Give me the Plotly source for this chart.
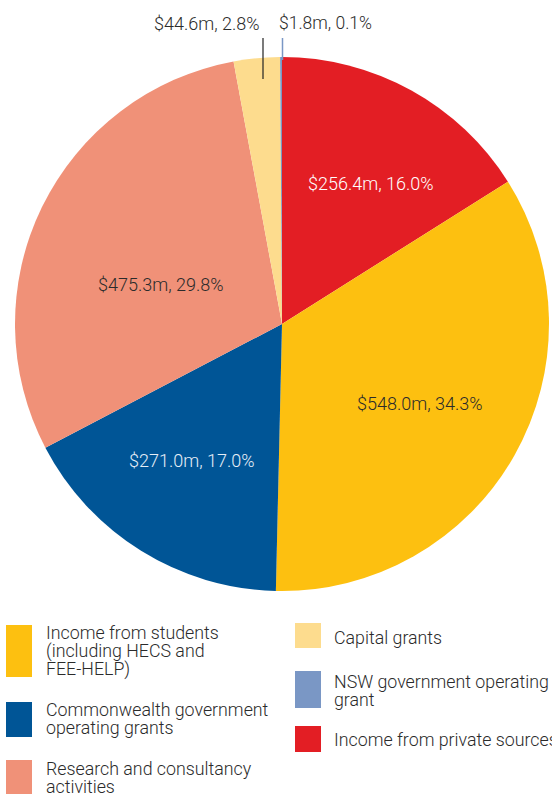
import plotly.graph_objects as go

# ---- data ----
categories = [
    "Income from private sources",
    "Income from students (including HECS and FEE-HELP)",
    "Commonwealth government operating grants",
    "Research and consultancy activities",
    "Capital grants",
    "NSW government operating grant",
]
values_m = [256.4, 548.0, 271.0, 475.3, 44.6, 1.8]
percents = [16.0, 34.3, 17.0, 29.8, 2.8, 0.1]
legend_lines = [
    ["Income from private sources"],
    ["Income from students", "(including HECS and", "FEE-HELP)"],
    ["Commonwealth government", "operating grants"],
    ["Research and consultancy", "activities"],
    ["Capital grants"],
    ["NSW government operating", "grant"],
]

# ---- styles ----
colors = ["#E31E24", "#FDC010", "#005596", "#F09178", "#FDDC8E", "#7A97C5"]
text_colors = ["#FFFFFF", "#2B2B2B", "#E6EEF6", "#2B2B2B", "#2B2B2B", "#2B2B2B"]
FONT = "Roboto"
W, H = 552, 794

def px(x):
    return x / W

def py(y):
    return 1 - y / H

texts = [f"${v:.1f}m, {p:.1f}%" for v, p in zip(values_m, percents)]

fig = go.Figure()
fig.add_trace(go.Pie(
    labels=categories,
    values=values_m,
    text=texts,
    textinfo="none",
    marker=dict(colors=colors, line=dict(width=0)),
    sort=False,
    direction="clockwise",
    rotation=0,
    hoverinfo="label+value+percent",
    domain=dict(x=[px(15), px(549)], y=[py(591), py(57)]),
))

shapes = []
annotations = []

# slice label placement (pixel centres)
label_pos = [(371, 183), (420, 403), (192, 460), (161, 284)]
for i, (lx, ly) in enumerate(label_pos):
    annotations.append(dict(
        x=px(lx), y=py(ly), xref="paper", yref="paper", text=texts[i],
        showarrow=False, xanchor="center", yanchor="middle",
        font=dict(family=FONT, size=18, color=text_colors[i], weight=300),
    ))

# outside labels for the two small slices
annotations.append(dict(
    x=px(262), y=py(23), xref="paper", yref="paper", text=texts[4],
    showarrow=False, xanchor="right", yanchor="middle",
    font=dict(family=FONT, size=18, color="#2B2B2B", weight=300),
))
annotations.append(dict(
    x=px(277), y=py(23), xref="paper", yref="paper", text=texts[5],
    showarrow=False, xanchor="left", yanchor="middle",
    font=dict(family=FONT, size=17.5, color="#2B2B2B", weight=300),
))
shapes.append(dict(type="line", xref="paper", yref="paper",
                   x0=px(263), x1=px(263), y0=py(38), y1=py(79),
                   line=dict(color="#222222", width=1.2)))
shapes.append(dict(type="line", xref="paper", yref="paper",
                   x0=px(282.5), x1=px(282.5), y0=py(38), y1=py(60),
                   line=dict(color=colors[5], width=1.5)))

# custom legend: (index, square x, square top, square bottom, text x, first line centre y)
legend_layout = [
    (1, 6, 625, 677, 44, 632),
    (2, 6, 702, 737, 44, 709),
    (3, 6, 760, 800, 44, 768),
    (4, 295, 623, 648, 332, 637),
    (5, 295, 671, 708, 332, 681),
    (0, 295, 726, 752, 332, 739),
]
LINE_H = 18.6
for idx, sx, st, sb, tx, ty in legend_layout:
    shapes.append(dict(type="rect", xref="paper", yref="paper",
                       x0=px(sx), x1=px(sx + 26), y0=py(sb), y1=py(st),
                       fillcolor=colors[idx], line=dict(width=0)))
    for k, line in enumerate(legend_lines[idx]):
        annotations.append(dict(
            x=px(tx), y=py(ty + k * LINE_H), xref="paper", yref="paper",
            text=line, showarrow=False,
            xanchor="left", yanchor="middle", align="left",
            font=dict(family=FONT, size=17.8, color="#2B2B2B", weight=300),
        ))

fig.update_layout(
    width=W, height=H,
    margin=dict(l=0, r=0, t=0, b=0),
    paper_bgcolor="white",
    plot_bgcolor="white",
    showlegend=False,
    shapes=shapes,
    annotations=annotations,
)

fig.write_html(
    "out.html",
    config={"displayModeBar": False},
    post_script="document.body.style.margin='0';document.body.style.padding='0';document.body.style.overflow='hidden';",
)
